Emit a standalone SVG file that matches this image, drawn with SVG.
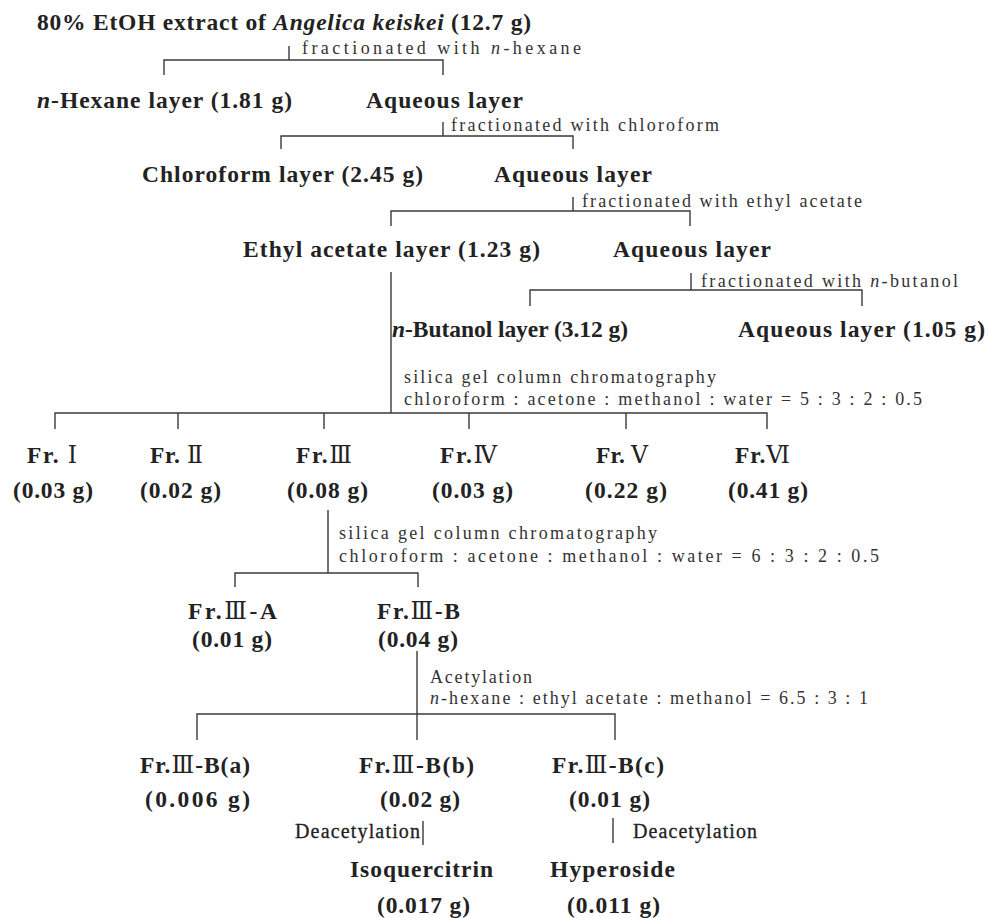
<svg xmlns="http://www.w3.org/2000/svg" width="988" height="918" viewBox="0 0 988 918">
<style>
.b{font-family:"Liberation Serif","Times New Roman",serif;font-weight:bold;font-size:23.5px;fill:#222}
.l{font-family:"Liberation Serif","Times New Roman",serif;font-size:18px;fill:#333}
.d{font-family:"Liberation Serif","Times New Roman",serif;font-size:20px;fill:#222;stroke:#222;stroke-width:0.3}
.i{font-style:italic}
.r{font-family:"DejaVu Serif","Noto Sans CJK JP",serif;font-weight:normal}
.c{fill:none;stroke:#3a3a3a;stroke-width:1.4}
</style>
<rect width="988" height="918" fill="#fff"/>
<g id="connectors" class="c">
<path d="M289 46V60M164 75V60H443V75"/>
<path d="M443 122V136M281 149V136H573V149"/>
<path d="M573 197V211M391 226V211H690V226"/>
<path d="M691 273V290M530 306V290H862V306"/>
<path d="M391 272V413M55 429V413H767V429M178 413V429M324 413V429M469 413V429M626 413V429"/>
<path d="M328 510V573M235 587V573H418V587"/>
<path d="M417 651V740M197 740V714H615V740"/>
<path d="M423 821V845M613 818V843"/>
</g>
<g id="n0"><text class="b" x="37" y="30" textLength="494" lengthAdjust="spacing">80% EtOH extract of <tspan class="i">Angelica keiskei</tspan> (12.7 g)</text></g>
<g id="e0"><text class="l" x="302" y="54" textLength="279" lengthAdjust="spacing">fractionated with <tspan class="i">n</tspan>-hexane</text></g>
<g id="n1"><text class="b" x="37" y="108" textLength="255" lengthAdjust="spacing"><tspan class="i">n</tspan>-Hexane layer (1.81 g)</text></g>
<g id="n2"><text class="b" x="366" y="108" textLength="157" lengthAdjust="spacing">Aqueous layer</text></g>
<g id="e1"><text class="l" x="451" y="131" textLength="268" lengthAdjust="spacing">fractionated with chloroform</text></g>
<g id="n3"><text class="b" x="142" y="182" textLength="281" lengthAdjust="spacing">Chloroform layer (2.45 g)</text></g>
<g id="n4"><text class="b" x="494" y="182" textLength="158" lengthAdjust="spacing">Aqueous layer</text></g>
<g id="e2"><text class="l" x="582" y="207" textLength="280" lengthAdjust="spacing">fractionated with ethyl acetate</text></g>
<g id="n5"><text class="b" x="243" y="257" textLength="297" lengthAdjust="spacing">Ethyl acetate layer (1.23 g)</text></g>
<g id="n6"><text class="b" x="613" y="257" textLength="158" lengthAdjust="spacing">Aqueous layer</text></g>
<g id="e3"><text class="l" x="701" y="287" textLength="257" lengthAdjust="spacing">fractionated with <tspan class="i">n</tspan>-butanol</text></g>
<g id="n7"><text class="b" x="392" y="337" textLength="236" lengthAdjust="spacing"><tspan class="i">n</tspan>-Butanol layer (3.12 g)</text></g>
<g id="n8"><text class="b" x="738" y="337" textLength="247" lengthAdjust="spacing">Aqueous layer (1.05 g)</text></g>
<g id="e4"><text class="l" x="404" y="383" textLength="312" lengthAdjust="spacing">silica gel column chromatography</text>
<text class="l" x="404" y="405" textLength="518" lengthAdjust="spacing">chloroform : acetone : methanol : water  = 5 : 3 : 2 : 0.5</text></g>
<g id="f1"><text class="b" x="27" y="463" textLength="50" lengthAdjust="spacing">Fr. <tspan class="r">Ⅰ</tspan></text><text class="b" x="13" y="498" textLength="80" lengthAdjust="spacing">(0.03 g)</text></g>
<g id="f2"><text class="b" x="150" y="463" textLength="53" lengthAdjust="spacing">Fr. <tspan class="r">Ⅱ</tspan></text><text class="b" x="140" y="498" textLength="81" lengthAdjust="spacing">(0.02 g)</text></g>
<g id="f3"><text class="b" x="296" y="463" textLength="56" lengthAdjust="spacing">Fr.<tspan class="r">Ⅲ</tspan></text><text class="b" x="287" y="498" textLength="81" lengthAdjust="spacing">(0.08 g)</text></g>
<g id="f4"><text class="b" x="440" y="463" textLength="57" lengthAdjust="spacing">Fr.<tspan class="r">Ⅳ</tspan></text><text class="b" x="432" y="498" textLength="81" lengthAdjust="spacing">(0.03 g)</text></g>
<g id="f5"><text class="b" x="596" y="463" textLength="52" lengthAdjust="spacing">Fr. <tspan class="r">Ⅴ</tspan></text><text class="b" x="585" y="498" textLength="82" lengthAdjust="spacing">(0.22 g)</text></g>
<g id="f6"><text class="b" x="735" y="463" textLength="55" lengthAdjust="spacing">Fr.<tspan class="r">Ⅵ</tspan></text><text class="b" x="728" y="498" textLength="80" lengthAdjust="spacing">(0.41 g)</text></g>
<g id="e5"><text class="l" x="339" y="539" textLength="318" lengthAdjust="spacing">silica gel column chromatography</text>
<text class="l" x="339" y="562" textLength="540" lengthAdjust="spacing">chloroform : acetone : methanol : water  = 6 : 3 : 2 : 0.5</text></g>
<g id="f3a"><text class="b" x="188" y="619" textLength="89" lengthAdjust="spacing">Fr.<tspan class="r">Ⅲ</tspan>-A</text><text class="b" x="192" y="647" textLength="80" lengthAdjust="spacing">(0.01 g)</text></g>
<g id="f3b"><text class="b" x="377" y="619" textLength="83" lengthAdjust="spacing">Fr.<tspan class="r">Ⅲ</tspan>-B</text><text class="b" x="378" y="647" textLength="80" lengthAdjust="spacing">(0.04 g)</text></g>
<g id="e6"><text class="l" x="430" y="683" textLength="102" lengthAdjust="spacing">Acetylation</text>
<text class="l" x="430" y="704" textLength="438" lengthAdjust="spacing"><tspan class="i">n</tspan>-hexane : ethyl acetate : methanol  = 6.5 : 3 : 1</text></g>
<g id="f3ba"><text class="b" x="140" y="773" textLength="110" lengthAdjust="spacing">Fr.<tspan class="r">Ⅲ</tspan>-B(a)</text><text class="b" x="145" y="807" textLength="105" lengthAdjust="spacing">(0.006 g)</text></g>
<g id="f3bb"><text class="b" x="359" y="773" textLength="115" lengthAdjust="spacing">Fr.<tspan class="r">Ⅲ</tspan>-B(b)</text><text class="b" x="380" y="807" textLength="80" lengthAdjust="spacing">(0.02 g)</text></g>
<g id="f3bc"><text class="b" x="552" y="773" textLength="112" lengthAdjust="spacing">Fr.<tspan class="r">Ⅲ</tspan>-B(c)</text><text class="b" x="569" y="807" textLength="81" lengthAdjust="spacing">(0.01 g)</text></g>
<g id="e7"><text class="d" x="295" y="838" textLength="125" lengthAdjust="spacing">Deacetylation</text>
<text class="d" x="633" y="838" textLength="124" lengthAdjust="spacing">Deacetylation</text></g>
<g id="p1"><text class="b" x="350" y="877" textLength="143" lengthAdjust="spacing">Isoquercitrin</text><text class="b" x="377" y="913" textLength="93" lengthAdjust="spacing">(0.017 g)</text></g>
<g id="p2"><text class="b" x="550" y="877" textLength="125" lengthAdjust="spacing">Hyperoside</text><text class="b" x="567" y="913" textLength="93" lengthAdjust="spacing">(0.011 g)</text></g>
</svg>
